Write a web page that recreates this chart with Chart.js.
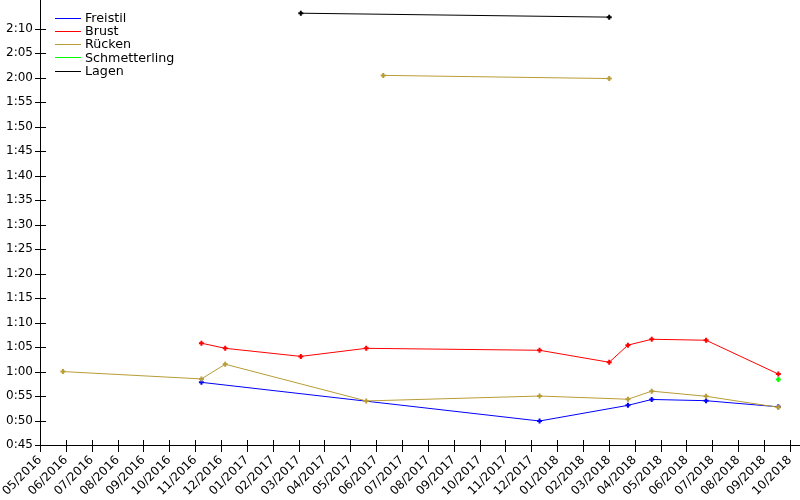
<!DOCTYPE html>
<html><head><meta charset="utf-8">
<script src="https://cdn.jsdelivr.net/npm/chart.js@4/dist/chart.umd.min.js"></script>
<style>html,body{margin:0;padding:0;background:#fff}#wrap{width:800px;height:500px;position:relative}</style>
</head><body><div id="wrap"><canvas id="c" width="800" height="500"></canvas></div>
<script>
// ---- data ----
const tickLabels = ["05/2016","06/2016","07/2016","08/2016","09/2016","10/2016","11/2016","12/2016",
  "01/2017","02/2017","03/2017","04/2017","05/2017","06/2017","07/2017","08/2017","09/2017","10/2017","11/2017","12/2017",
  "01/2018","02/2018","03/2018","04/2018","05/2018","06/2018","07/2018","08/2018","09/2018","10/2018"];
const origin = "2016-05-01";

const freistilDates = ["2016-11-07","2017-12-10","2018-03-24","2018-04-21","2018-06-24","2018-09-17"];
const freistilTimes = [57.8, 49.9, 53.1, 54.3, 54.05, 52.8];

const brustDates = ["2016-11-07","2016-12-05","2017-03-04","2017-05-20","2017-12-10","2018-03-02","2018-03-24","2018-04-21","2018-06-24","2018-09-17"];
const brustTimes = [65.8, 64.75, 63.1, 64.75, 64.35, 61.9, 65.4, 66.6, 66.4, 59.5];

const rueckenDates = ["2016-05-28","2016-11-07","2016-12-05","2017-05-20","2017-12-10","2018-03-24","2018-04-21","2018-06-24","2018-09-17"];
const rueckenTimes = [60.0, 58.5, 61.5, 54.0, 55.0, 54.35, 56.0, 54.95, 52.7];

const ruecken2Dates = ["2017-06-09","2018-03-02"];
const ruecken2Times = [120.5, 119.85];

const schmetterlingDates = ["2018-09-17"];
const schmetterlingTimes = [58.4];

const lagenDates = ["2017-03-04","2018-03-02"];
const lagenTimes = [133.2, 132.4];

const yTicks = [45,50,55,60,65,70,75,80,85,90,95,100,105,110,115,120,125,130];

// ---- helpers ----
const DAY = 86400000, MONTH = 30.436875;
const toMonth = d => (Date.parse(d) - Date.parse(origin)) / DAY / MONTH;
const pts = (dates, times) => dates.map((d, i) => ({x: toMonth(d), y: times[i]}));
const fmt = v => Math.floor(v / 60) + ":" + String(Math.round(v % 60)).padStart(2, "0");

const BLUE = "#0000ff", RED = "#ff0000", OLIVE = "#b89c34", GREEN = "#00ff00", BLACK = "#000000";

function ds(label, data, color, order, legend) {
  return {label, data, borderColor: color, backgroundColor: color, borderWidth: 1,
    pointStyle: "cross", pointRadius: 2.5, pointBorderWidth: 2, pointHoverRadius: 2.5,
    tension: 0, fill: false, order, showInLegend: legend};
}

Chart.defaults.font.family = "'DejaVu Sans', sans-serif";
Chart.defaults.font.size = 12;
Chart.defaults.color = "#000";

const axesPlugin = {
  id: "axesPlugin",
  afterDraw(chart) {
    const ctx = chart.ctx, xs = chart.scales.x, ys = chart.scales.y, a = chart.chartArea;
    ctx.save();
    ctx.strokeStyle = "#000"; ctx.lineWidth = 1;
    ctx.beginPath();
    ctx.moveTo(a.left + 0.5, a.top); ctx.lineTo(a.left + 0.5, a.bottom + 0.5);
    ctx.moveTo(a.left, a.bottom + 0.5); ctx.lineTo(a.right, a.bottom + 0.5);
    ys.ticks.forEach(t => {
      const y = Math.round(ys.getPixelForValue(t.value)) + 0.5;
      ctx.moveTo(a.left - 5, y); ctx.lineTo(a.left + 6, y);
    });
    xs.ticks.forEach(t => {
      const x = Math.round(xs.getPixelForValue(t.value)) + 0.5;
      ctx.moveTo(x, a.bottom - 5); ctx.lineTo(x, a.bottom + 7);
    });
    ctx.stroke();
    // legend
    ctx.font = "12.7px 'DejaVu Sans'";
    ctx.textBaseline = "middle"; ctx.textAlign = "left"; ctx.fillStyle = "#000";
    let row = 0;
    chart.data.datasets.forEach(d => {
      if (!d.showInLegend) return;
      const y = 17.5 + row * 13.3;
      ctx.strokeStyle = d.borderColor;
      ctx.beginPath(); ctx.moveTo(55, Math.round(y) + 0.5); ctx.lineTo(81, Math.round(y) + 0.5); ctx.stroke();
      ctx.fillText(d.label, 85, y + 1);
      row++;
    });
    ctx.restore();
  }
};

new Chart(document.getElementById("c"), {
  type: "line",
  data: {datasets: [
    ds("Freistil", pts(freistilDates, freistilTimes), BLUE, 6, true),
    ds("Brust", pts(brustDates, brustTimes), RED, 5, true),
    ds("Rücken", pts(rueckenDates, rueckenTimes), OLIVE, 4, true),
    ds("Schmetterling", pts(schmetterlingDates, schmetterlingTimes), GREEN, 3, true),
    ds("Lagen", pts(lagenDates, lagenTimes), BLACK, 1, true),
    ds("Rücken 2", pts(ruecken2Dates, ruecken2Times), OLIVE, 2, false)
  ]},
  options: {
    responsive: false, animation: false, devicePixelRatio: 1,
    layout: {padding: 0, autoPadding: false},
    plugins: {legend: {display: false}, tooltip: {enabled: false}},
    scales: {
      x: {type: "linear", min: 0, max: 29.39,
        grid: {display: false, drawTicks: false}, border: {display: false},
        afterBuildTicks: s => { s.ticks = tickLabels.map((_, i) => ({value: i})); },
        afterFit: s => { s.height = 55; s.paddingLeft = 0; s.paddingRight = 0; },
        ticks: {minRotation: 45, maxRotation: 45, padding: 8, autoSkip: false,
          callback: (v) => tickLabels[Math.round(v)]}
      },
      y: {type: "linear", min: 45, max: 135.9,
        grid: {display: false, drawTicks: false}, border: {display: false},
        afterBuildTicks: s => { s.ticks = yTicks.map(v => ({value: v})); },
        afterFit: s => { s.width = 40; s.paddingTop = 0; s.paddingBottom = 0; },
        ticks: {padding: 7, callback: v => fmt(v)}
      }
    }
  },
  plugins: [axesPlugin]
});
</script></body></html>
